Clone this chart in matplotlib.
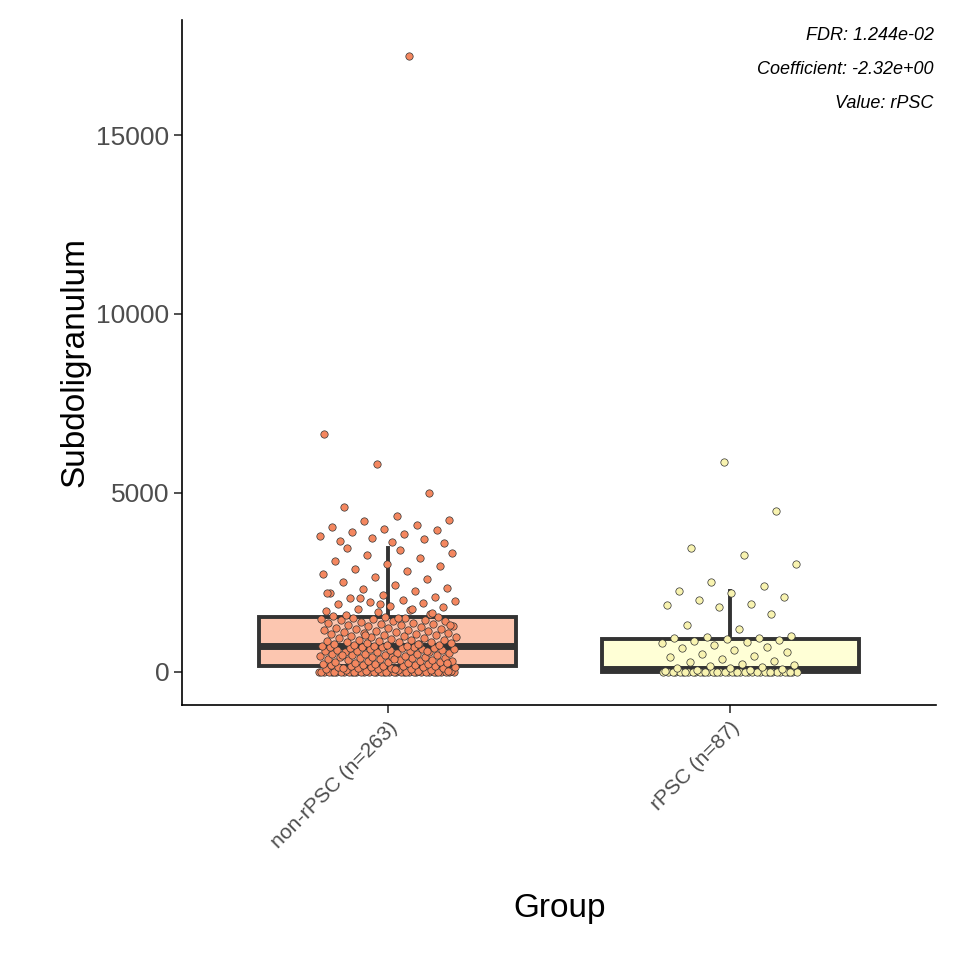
import matplotlib
matplotlib.use('Agg')
import matplotlib.pyplot as plt
import numpy as np

plt.rcParams['font.family'] = ['Liberation Sans', 'DejaVu Sans']

groups = ['non-rPSC (n=263)', 'rPSC (n=87)']

non_rpsc = ([0] * 40 +
    [15, 22, 31, 38, 47, 55, 63, 72, 84, 91, 98, 107, 118, 126, 133, 141, 150, 158,
     166, 172, 179, 185, 190, 27, 61, 112] +
    [205, 213, 228, 236, 244, 259, 268, 275, 288, 296, 304, 317, 322, 339, 344, 356,
     368, 373, 385, 397, 402, 416, 421, 437, 446, 455, 463, 478, 484, 497, 503, 516,
     522, 538, 541, 557, 566, 572, 584, 593, 605, 612, 627, 633, 641, 652, 667, 674,
     681, 688, 694, 699, 248, 362, 471, 589] +
    [705, 716, 728, 737, 749, 758, 771, 783, 792, 806, 817, 829, 838, 852, 866, 874,
     889, 897, 912, 928, 941, 956, 968, 983, 997, 1012, 1027, 1039, 1054, 1068, 1083,
     1097, 1112, 1126, 1141, 1158, 1172, 1189, 1203, 1218, 1234, 1249, 1263, 1281,
     1296, 1312, 1327, 1343, 1358, 1374, 1389, 1405, 1421, 1436, 1452, 1468, 1483,
     1497, 1512, 1526, 1538, 1547, 760, 1020, 1300, 1490] +
    [1580, 1620, 1660, 1700, 1730, 1760, 1800, 1840, 1880, 1920, 1950, 1980, 2010,
     2050, 2100, 2150, 2200, 2250, 2300, 2350, 2420, 2500, 2580, 2650, 2720, 2800,
     2880, 2950, 3020, 3100, 3180, 3250, 3320, 3400, 3450, 1650, 1900, 2200, 1750,
     2050] +
    [3600, 3620, 3650, 3700, 3750, 3800, 3850, 3900, 3950, 4000, 4050, 4100, 4200,
     4250, 4350, 4600, 5000, 5800, 6650, 17200])

rpsc = ([0] * 40 +
    [20, 35, 50, 70, 90, 100, 120, 150, 180, 220, 260, 300, 350, 400, 450, 500, 550,
     600, 650, 700, 750, 800, 840, 870, 890] +
    [910, 930, 950, 980, 1000, 1200, 1300, 1600, 1800, 1850, 1900, 2000, 2100, 2200,
     2250] +
    [2400, 2500, 3000, 3250, 3450, 4500, 5850])

box_fill = ['#FCC6B0', '#FFFFD6']
pt_fill = ['#F4875F', '#F8F3B0']

fig = plt.figure(figsize=(9.6, 9.6), dpi=100)
ax = fig.add_axes([0.19, 0.266, 0.785, 0.713])

for i, vals in enumerate([non_rpsc, rpsc]):
    pos = i + 1
    ax.boxplot([vals], positions=[pos], widths=0.75, patch_artist=True,
               showfliers=False, showcaps=False,
               boxprops=dict(facecolor=box_fill[i], edgecolor='#333333', linewidth=2.8),
               medianprops=dict(color='#333333', linewidth=5),
               whiskerprops=dict(color='#333333', linewidth=2.8), zorder=1)
    n = len(vals)
    jit = ((np.arange(n) * 0.6180339887 + 0.3 * i) % 1 - 0.5) * 0.4
    ax.scatter(pos + jit, vals, s=28, facecolor=pt_fill[i], edgecolor='#333333',
               linewidth=0.5, zorder=3)

ax.set_xlim(0.4, 2.6)
ax.set_ylim(-922, 18212)
ax.set_xticks([1, 2])
ax.set_xticklabels(groups, rotation=45, ha='right', rotation_mode='anchor',
                   fontsize=15, color='#4D4D4D')
ax.set_yticks([0, 5000, 10000, 15000])
ax.set_yticklabels(['0', '5000', '10000', '15000'], fontsize=19, color='#4D4D4D')
ax.tick_params(length=6, width=1.2, color='#333333')
for s in ['top', 'right']:
    ax.spines[s].set_visible(False)
for s in ['left', 'bottom']:
    ax.spines[s].set_linewidth(1.2)
ax.set_xlabel('Group', fontsize=24, labelpad=30)
ax.set_ylabel('Subdoligranulum', fontsize=24)

notes = ['FDR: 1.244e-02', 'Coefficient: -2.32e+00', 'Value: rPSC']
for k, t in enumerate(notes):
    ax.text(0.997, 0.99 - k * 0.0495, t, transform=ax.transAxes, ha='right', va='top',
            fontsize=13, style='italic')

fig.savefig('out.png', dpi=100)
